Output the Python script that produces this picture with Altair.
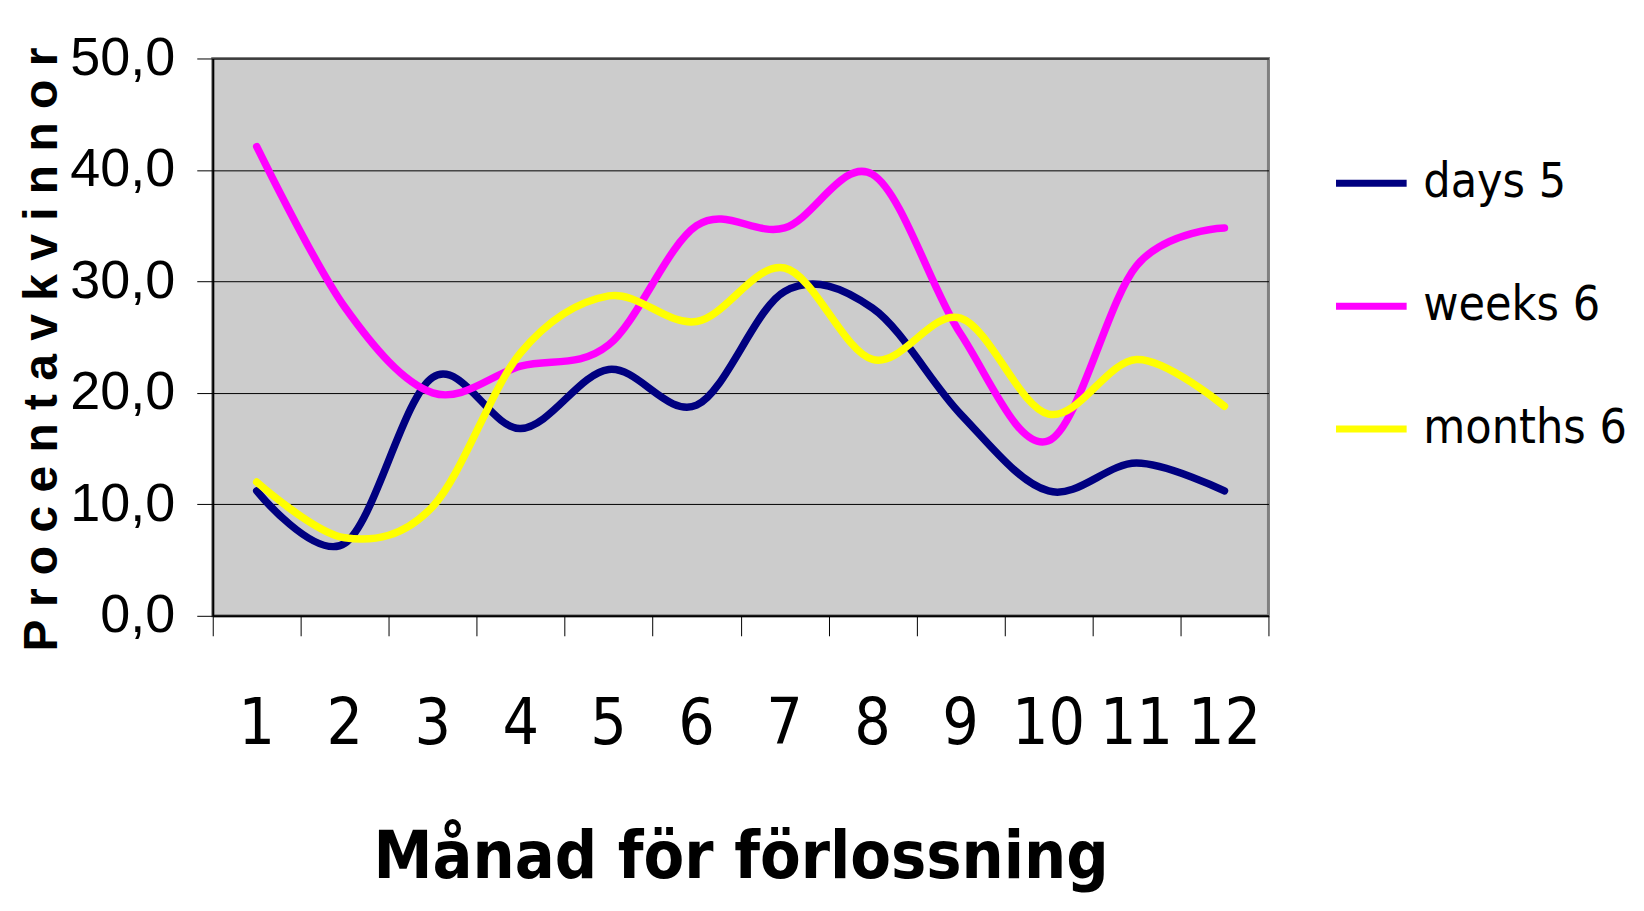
import altair as alt
import pandas as pd

# ---- data ----
months = list(range(1, 13))
month_labels = [str(m) for m in months]
days_5 = [11.2, 6.5, 21.4, 16.8, 22.1, 18.9, 29.1, 27.6, 18.1, 11.2, 13.7, 11.2]
weeks_6 = [42.1, 27.7, 20.0, 22.4, 24.3, 35.0, 34.8, 39.6, 25.3, 15.7, 31.4, 34.8]
months_6 = [12.0, 7.0, 9.8, 23.6, 28.7, 26.4, 31.2, 23.0, 26.7, 18.1, 23.0, 18.8]
series_names = ["days 5", "weeks 6", "months 6"]
series_colors = ["#000080", "#FF00FF", "#FFFF00"]
y_ticks = [0, 10, 20, 30, 40, 50]
x_boundaries = [m - 0.5 for m in months] + [12.5]

rows = []
for name, vals in zip(series_names, [days_5, weeks_6, months_6]):
    for m, v in zip(months, vals):
        rows.append({"month": m, "value": v, "series": name})
df = pd.DataFrame(rows)
labels_df = pd.DataFrame({"month": months, "label": month_labels})

W, H = 1057, 558
NARROW = "DejaVu Sans Condensed, DejaVu Sans, sans-serif"
SANS = "Liberation Sans, Arial, sans-serif"

x_enc = alt.X(
    "month:Q",
    scale=alt.Scale(domain=[0.5, 12.5], nice=False, zero=False),
    axis=alt.Axis(
        values=x_boundaries, labels=False, grid=False,
        tickSize=20, tickColor="black", tickWidth=1,
        domainColor="black", domainWidth=2,
        title="Månad för förlossning", titleFont=NARROW, titleFontSize=66,
        titleFontWeight="bold", titleColor="black", titleLimit=1200,
        titleX=W / 2, titleY=262, titleAlign="center", titleBaseline="alphabetic",
    ),
)

y_enc = alt.Y(
    "value:Q",
    scale=alt.Scale(domain=[0, 50], nice=False),
    axis=alt.Axis(
        values=y_ticks, grid=True, gridColor="black", gridWidth=1,
        tickSize=16, tickColor="black", domainColor="black", domainWidth=2,
        labelExpr="replace(format(datum.value, '.1f'), '.', ',')",
        labelFont=SANS, labelFontSize=54, labelColor="black", labelPadding=22,
        title="P r o c e n t a v k v i n n o r", titleFont=SANS, titleFontSize=48,
        titleFontWeight="bold", titleColor="black", titleAngle=270, titleLimit=1200,
        titleX=-170, titleY=H / 2 + 12, titleAlign="center", titleBaseline="middle",
    ),
)

lines = alt.Chart(df).mark_line(
    interpolate="cardinal", strokeWidth=7.5, strokeCap="round", strokeJoin="round"
).encode(
    x=x_enc,
    y=y_enc,
    color=alt.Color(
        "series:N",
        scale=alt.Scale(domain=series_names, range=series_colors),
        legend=alt.Legend(
            title=None, orient="none", legendX=1121, legendY=86, padding=0,
            symbolType="stroke", symbolSize=5000, symbolStrokeWidth=7,
            labelFont=NARROW, labelFontSize=48, labelColor="black",
            labelOffset=13, rowPadding=60, labelLimit=600,
        ),
    ),
)

labels = alt.Chart(labels_df).mark_text(
    font=NARROW, fontSize=64, baseline="alphabetic", align="center", color="black"
).encode(
    x=x_enc,
    y=alt.value(H + 128),
    text="label:N",
)

chart = alt.layer(lines, labels).properties(
    width=W, height=H,
    padding={"left": 205, "top": 50, "right": 368, "bottom": 282},
    autosize=alt.AutoSizeParams(type="none"),
    background="white",
).configure_view(fill="#CCCCCC", stroke="#808080", strokeWidth=3)

chart.save("out.html", embed_options={"renderer": "svg", "actions": False})
